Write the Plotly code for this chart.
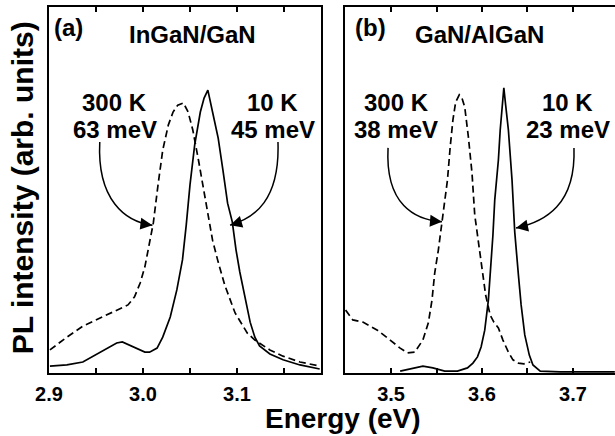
import plotly.graph_objects as go

# ---------------- data ----------------
left_10K_E = [2.901, 2.919, 2.936, 2.954, 2.965, 2.972, 2.978, 2.983, 2.994, 3.002, 3.007, 3.015, 3.021,
              3.029, 3.036, 3.042, 3.046, 3.050, 3.055, 3.061, 3.065, 3.069, 3.074, 3.080, 3.085, 3.090,
              3.095, 3.099, 3.103, 3.109, 3.114, 3.119, 3.124, 3.135, 3.149, 3.167, 3.188]
left_10K_I = [0.019, 0.022, 0.030, 0.055, 0.071, 0.082, 0.085, 0.079, 0.066, 0.057, 0.057, 0.068, 0.098,
              0.153, 0.227, 0.309, 0.404, 0.514, 0.623, 0.713, 0.751, 0.773, 0.713, 0.642, 0.555, 0.464,
              0.413, 0.336, 0.276, 0.205, 0.139, 0.098, 0.074, 0.052, 0.036, 0.022, 0.011]

left_300K_E = [2.901, 2.919, 2.936, 2.954, 2.972, 2.984, 2.991, 2.997, 3.002, 3.007, 3.011, 3.016, 3.021,
               3.027, 3.032, 3.037, 3.043, 3.048, 3.053, 3.059, 3.064, 3.069, 3.074, 3.080, 3.087, 3.098,
               3.111, 3.119, 3.128, 3.135, 3.149, 3.167, 3.188]
left_300K_I = [0.063, 0.098, 0.128, 0.150, 0.172, 0.186, 0.208, 0.246, 0.290, 0.355, 0.410, 0.514, 0.609,
               0.678, 0.713, 0.732, 0.738, 0.713, 0.664, 0.582, 0.505, 0.437, 0.363, 0.303, 0.240, 0.164,
               0.109, 0.090, 0.074, 0.063, 0.046, 0.030, 0.019]

right_10K_E = [3.510, 3.521, 3.535, 3.546, 3.559, 3.573, 3.584, 3.590, 3.595, 3.599, 3.603, 3.607, 3.610,
               3.612, 3.614, 3.618, 3.620, 3.622, 3.624, 3.626, 3.629, 3.633, 3.636, 3.640, 3.643, 3.647,
               3.652, 3.656, 3.664, 3.686, 3.719, 3.746]
right_10K_I = [0.005, 0.011, 0.019, 0.014, 0.005, 0.005, 0.014, 0.027, 0.044, 0.071, 0.117, 0.199, 0.295,
               0.377, 0.473, 0.582, 0.664, 0.732, 0.779, 0.732, 0.664, 0.527, 0.385, 0.268, 0.186, 0.104,
               0.049, 0.022, 0.005, 0.003, 0.003, 0.003]

right_300K_E = [3.450, 3.458, 3.469, 3.485, 3.499, 3.510, 3.518, 3.526, 3.535, 3.541, 3.545, 3.548, 3.552,
                3.556, 3.562, 3.565, 3.568, 3.571, 3.575, 3.578, 3.581, 3.585, 3.589, 3.592, 3.596, 3.600,
                3.604, 3.609, 3.613, 3.618, 3.623, 3.629, 3.634, 3.640, 3.646, 3.653]
right_300K_I = [0.172, 0.145, 0.139, 0.117, 0.090, 0.068, 0.055, 0.057, 0.090, 0.137, 0.199, 0.273, 0.336,
                0.413, 0.527, 0.617, 0.691, 0.740, 0.760, 0.751, 0.727, 0.645, 0.546, 0.432, 0.363, 0.287,
                0.213, 0.158, 0.139, 0.123, 0.090, 0.057, 0.036, 0.027, 0.025, 0.030]

left_tick_vals = [2.9, 2.95, 3.0, 3.05, 3.1, 3.15]
left_tick_text = ["2.9", "", "3.0", "", "3.1", ""]
right_tick_vals = [3.45, 3.5, 3.55, 3.6, 3.65, 3.7]
right_tick_text = ["", "3.5", "", "3.6", "", "3.7"]

panel_labels = ["(a)", "(b)"]
panel_titles = ["InGaN/GaN", "GaN/AlGaN"]
temps = ["300 K", "10 K"]
left_fwhm = ["63 meV", "45 meV"]
right_fwhm = ["38 meV", "23 meV"]

FONT = "Arial, Liberation Sans, Helvetica, sans-serif"
BLACK = "#000000"

fig = go.Figure()
line_solid = dict(color=BLACK, width=1.7)
line_dash = dict(color=BLACK, width=1.7, dash="7px,4px")

fig.add_trace(go.Scatter(x=left_300K_E, y=left_300K_I, mode="lines", line=line_dash,
                         xaxis="x", yaxis="y", showlegend=False))
fig.add_trace(go.Scatter(x=left_10K_E, y=left_10K_I, mode="lines", line=line_solid,
                         xaxis="x", yaxis="y", showlegend=False))
fig.add_trace(go.Scatter(x=right_300K_E, y=right_300K_I, mode="lines", line=line_dash,
                         xaxis="x2", yaxis="y2", showlegend=False))
fig.add_trace(go.Scatter(x=right_10K_E, y=right_10K_I, mode="lines", line=line_solid,
                         xaxis="x2", yaxis="y2", showlegend=False))

tickfont = dict(family=FONT, size=20, color=BLACK, weight="bold")
common_x = dict(showline=True, linecolor=BLACK, linewidth=2, mirror="allticks",
                ticks="inside", ticklen=5, tickwidth=1.5, tickcolor=BLACK,
                showgrid=False, zeroline=False, tickfont=tickfont, ticklabelstandoff=2)

fig.update_layout(
    width=615, height=436,
    margin=dict(l=49, r=0, t=7, b=63),
    paper_bgcolor="white", plot_bgcolor="white",
    xaxis=dict(domain=[0, 0.4806], range=[2.9, 3.1894], tickvals=left_tick_vals,
               ticktext=left_tick_text, anchor="y", **common_x),
    xaxis2=dict(domain=[0.523, 1.0], range=[3.4494, 3.7462], tickvals=right_tick_vals,
                ticktext=right_tick_text, anchor="y2", **common_x),
    yaxis=dict(domain=[0, 1], range=[0, 1], showline=True, linecolor=BLACK, linewidth=2,
               mirror=True, ticks="", showticklabels=False, showgrid=False, zeroline=False,
               anchor="x"),
    yaxis2=dict(domain=[0, 1], range=[0, 1], showline=True, linecolor=BLACK, linewidth=2,
                mirror=False, ticks="", showticklabels=False, showgrid=False, zeroline=False,
                anchor="x2"),
)

ann = []
# axis titles
ann.append(dict(text="PL intensity (arb. units)", xref="paper", yref="paper", x=-0.0477, y=0.505,
                textangle=-90, showarrow=False, xanchor="center", yanchor="middle",
                font=dict(family=FONT, size=30, color=BLACK, weight="bold")))
ann.append(dict(text="Energy (eV)", xref="paper", yref="paper", x=0.519, y=-0.123,
                showarrow=False, xanchor="center", yanchor="middle",
                font=dict(family=FONT, size=28, color=BLACK, weight="bold")))

lab_font = dict(family=FONT, size=24, color=BLACK, weight="bold")
# panel labels and titles
ann.append(dict(text=panel_labels[0], xref="x", yref="y", x=2.903, y=0.945, xanchor="left",
                yanchor="middle", showarrow=False, font=lab_font))
ann.append(dict(text=panel_titles[0], xref="x", yref="y", x=3.053, y=0.926, xanchor="center",
                yanchor="middle", showarrow=False, font=lab_font))
ann.append(dict(text=panel_labels[1], xref="x2", yref="y2", x=3.458, y=0.945, xanchor="left",
                yanchor="middle", showarrow=False, font=lab_font))
ann.append(dict(text=panel_titles[1], xref="x2", yref="y2", x=3.597, y=0.926, xanchor="center",
                yanchor="middle", showarrow=False, font=lab_font))

# temperature / FWHM labels
text_pos = [
    ("x", "y", 2.970, temps[0], left_fwhm[0]),
    ("x", "y", 3.138, temps[1], left_fwhm[1]),
    ("x2", "y2", 3.5055, temps[0], right_fwhm[0]),
    ("x2", "y2", 3.6945, temps[1], right_fwhm[1]),
]
for xr, yr, xe, t1, t2 in text_pos:
    ann.append(dict(text=t1, xref=xr, yref=yr, x=xe, y=0.738, xanchor="center", yanchor="middle",
                    showarrow=False, font=lab_font))
    ann.append(dict(text=t2, xref=xr, yref=yr, x=xe, y=0.665, xanchor="center", yanchor="middle",
                    showarrow=False, font=lab_font))

# curved arrows (bezier in data coords) + arrowheads
arrows = [
    ("x", "y", [(2.954, 0.631), (2.951, 0.473), (2.981, 0.413), (3.010, 0.404)], -12, -1.5),
    ("x", "y", [(3.1436, 0.631), (3.1457, 0.473), (3.1191, 0.423), (3.0926, 0.404)], 12, -3.5),
    ("x2", "y2", [(3.4967, 0.615), (3.4934, 0.459), (3.5264, 0.418), (3.5560, 0.413)], -12, -1),
    ("x2", "y2", [(3.7011, 0.615), (3.7033, 0.459), (3.6692, 0.413), (3.6374, 0.396)], 12, -2.5),
]
shapes = []
for xr, yr, pts, axp, ayp in arrows:
    (x0, y0), (x1, y1), (x2, y2), (x3, y3) = pts
    shapes.append(dict(type="path", xref=xr, yref=yr,
                       path=f"M {x0},{y0} C {x1},{y1} {x2},{y2} {x3},{y3}",
                       line=dict(color=BLACK, width=1.5)))
    ann.append(dict(text="", xref=xr, yref=yr, x=x3, y=y3, ax=axp, ay=ayp, showarrow=True,
                    arrowhead=2, arrowsize=1.6, arrowwidth=1.5, arrowcolor=BLACK, standoff=0))

fig.update_layout(annotations=ann, shapes=shapes)
fig.write_html("out.html", config={"displayModeBar": False},
               post_script="document.body.style.margin='0';document.body.style.overflow='hidden';")
